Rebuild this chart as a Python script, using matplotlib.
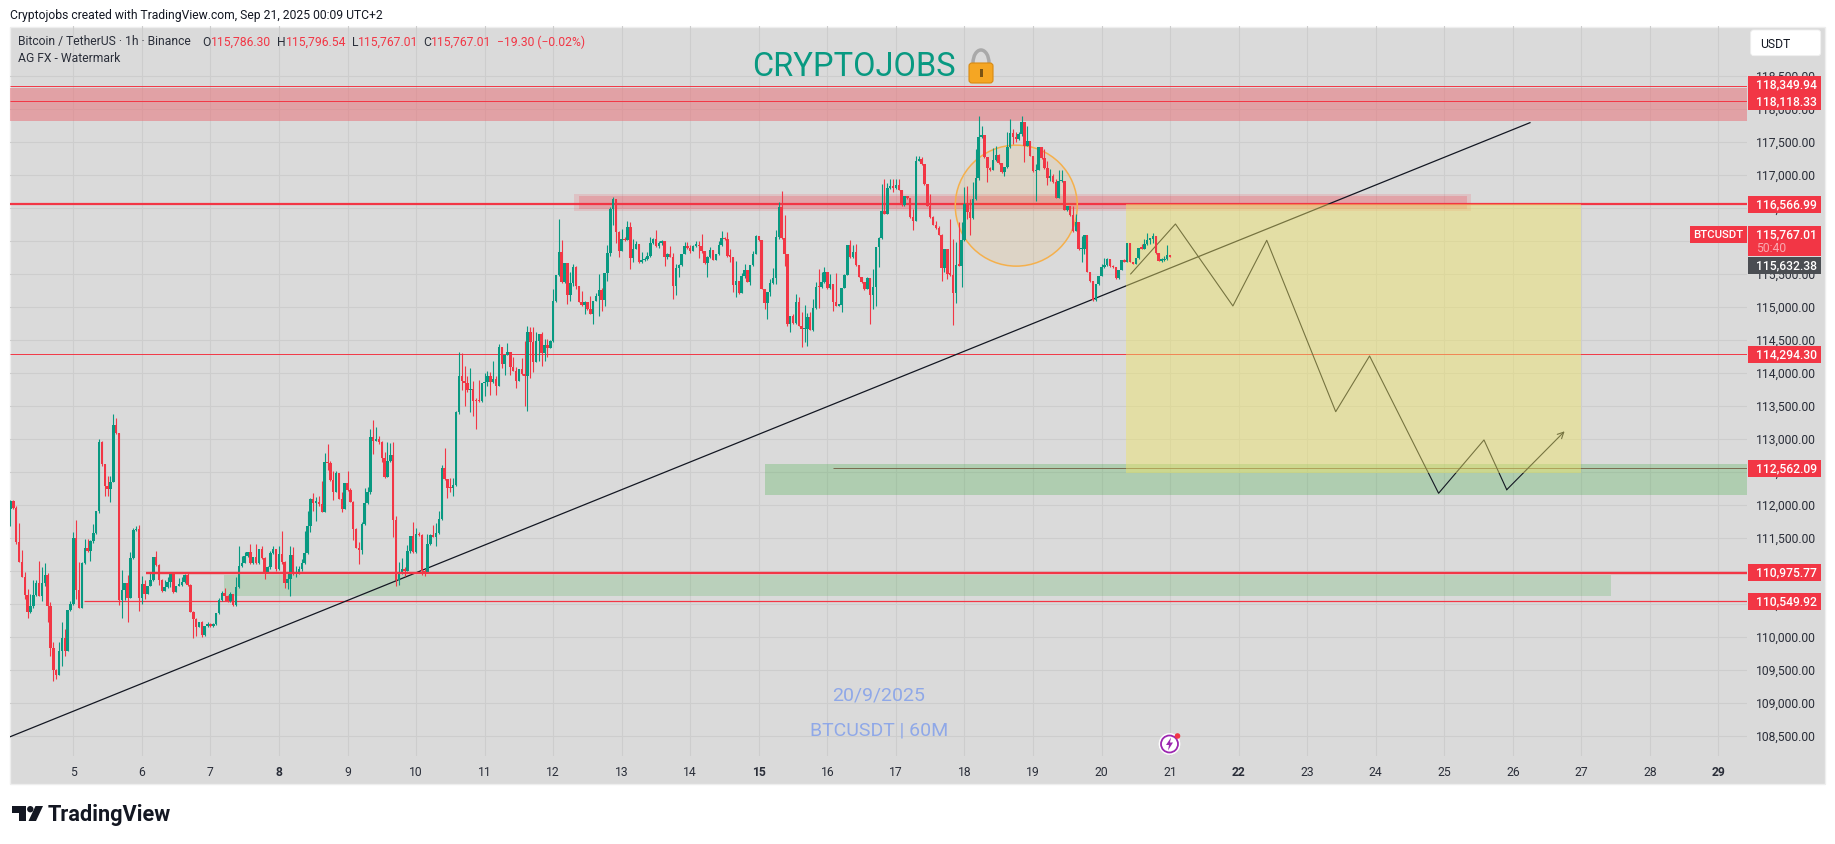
import matplotlib
matplotlib.use("Agg")
import matplotlib.pyplot as plt
from matplotlib.patches import Rectangle, Ellipse, FancyBboxPatch, Polygon, Circle, Arc
from matplotlib.transforms import ScaledTranslation

plt.rcParams['font.family'] = ['Roboto', 'DejaVu Sans']

# hourly candles, first one is Sep 4 01:00
first_open = 111700
closes = [
    111944,112070,111954,111439,111146,110919,110646,110379,110469,110641,
    110823,110631,110823,110944,110469,109843,109510,109434,109793,109990,
    109793,110414,110505,111505,110717,110449,111126,111353,111313,111459,
    111575,111914,112959,112621,112298,112247,112348,113217,113095,110570,
    110717,110823,110596,111202,111626,111641,110596,110808,110656,110782,
    110863,111217,111096,110868,110707,110762,110833,110964,110687,110782,
    110792,110833,110949,110798,110389,110272,110161,110227,110035,110166,
    110202,110166,110202,110368,110570,110671,110626,110555,110651,110489,
    110757,111075,111131,111237,111288,111126,111222,111126,111338,111202,
    110969,111060,111278,111338,111035,111262,111137,110823,110884,111248,
    110960,110995,111036,111126,111278,111682,112096,112040,112051,112020,
    111904,112651,112641,112389,112207,112490,112101,111950,112338,112227,
    112056,111647,111359,111328,111712,112030,112197,113035,112980,113000,
    112965,112717,112424,112667,112763,111773,110869,110995,111036,111010,
    111303,111535,111288,111566,111546,111005,110985,111409,111556,111525,
    111576,111788,112566,112394,112268,112258,112303,113409,113959,113888,
    113848,113747,113757,113585,113580,113575,113848,113873,113959,113873,
    113914,113813,114398,114146,114277,114328,114090,114040,113888,114065,
    113989,113964,114620,114469,114176,114484,114595,114307,114429,114388,
    114484,115090,115489,115838,115378,115671,115186,115363,115610,115317,
    115080,115035,115085,114974,114903,115100,115166,115257,115115,115519,
    115822,116489,116640,116146,115858,116034,116024,116216,115752,115883,
    115959,115691,115711,115732,115772,115974,116034,115934,115974,116009,
    115757,115807,115767,115327,115590,115641,115807,115934,115893,115858,
    115934,115944,115924,115848,115671,115762,115868,115721,115802,115944,
    116045,116034,115772,115767,115338,115399,115217,115480,115570,115389,
    115641,115808,116075,116015,115278,115065,115227,115368,115439,116065,
    116520,116055,115803,114742,114863,114762,115075,114722,114671,114671,
    114853,114661,114985,115303,115302,115378,115530,115288,115348,115086,
    115025,115030,115298,115495,115949,115762,115838,115641,115464,115379,
    115277,115449,115187,115303,115909,116055,116459,116419,116803,116838,
    116813,116853,116777,116550,116681,116651,116363,116313,117222,117247,
    117171,116868,116540,116363,116247,116197,116101,115596,115884,115505,
    115495,115222,115646,115631,116020,116565,116439,116348,116641,116959,
    117575,117610,117272,117106,117086,117232,117308,117181,117055,117121,
    117424,117636,117575,117550,117631,117802,117449,117515,117298,117060,
    117085,117424,117257,117106,116964,116995,116893,116656,116909,116919,
    116479,116540,116399,116156,116288,115884,115884,116096,115540,115399,
    115111,115353,115479,115606,115641,115732,115621,115606,115439,115571,
    115717,115692,115974,115692,115661,115742,115904,115889,115959,116025,
    116035,116085,115818,115707,115712,115732,115786,115767]
highs = [
    112197,112085,112085,111994,111727,111323,110984,110732,110656,110868,
    110868,111156,111065,111126,110974,110530,109924,109520,109934,110227,
    110126,110414,110555,111601,111777,111136,111136,111490,111490,111474,
    111717,111914,113005,112979,112621,112449,112449,113383,113323,113095,
    111020,110823,110949,111298,111651,111691,111702,110934,110868,110782,
    110984,111217,111313,111106,110883,110873,110909,110984,110954,110782,
    110894,110909,110959,110984,110808,110404,110288,110227,110252,110166,
    110227,110212,110212,110368,110596,110707,110742,110641,110681,110651,
    110909,111389,111237,111288,111298,111414,111222,111414,111338,111389,
    111212,111085,111313,111379,111338,111389,111611,111162,110985,111384,
    111364,111076,111076,111187,111611,111919,112106,112182,112121,112147,
    112374,112793,112929,112677,112525,112525,112490,112197,112338,112520,
    112258,112066,111652,111439,111753,112268,112273,113156,113298,113182,
    113056,112975,112813,112955,112944,112965,111843,111147,111202,111061,
    111399,111535,111753,111652,111591,111566,111030,111566,111566,111702,
    111732,111919,112611,112864,112399,112409,112409,113424,114317,114307,
    114115,113964,114075,113888,113620,113898,113848,114004,114040,114025,
    114186,113964,114444,114398,114277,114459,114328,114242,114090,114065,
    114232,114494,114722,114696,114696,114620,114595,114620,114519,114519,
    114509,115277,115489,116337,116019,115671,115403,115530,115656,115631,
    115327,115252,115100,115075,115166,115100,115216,115509,115287,115519,
    115944,116514,116666,116640,116161,116186,116060,116302,116287,116034,
    116009,115959,115833,115757,115833,116060,116050,116171,116009,116015,
    116009,115830,115933,115817,115656,115650,115807,115994,115984,115944,
    115950,116009,116009,116110,115848,115770,115908,115868,115810,116009,
    116161,116060,116135,115883,115767,115697,115404,115515,115656,115570,
    115641,115848,116096,116075,116015,115278,115227,115429,115591,116176,
    116590,116757,116399,115803,114863,114899,115202,115151,114924,115035,
    114914,114924,115126,115378,115580,115530,115606,115530,115505,115348,
    115520,115050,115298,115505,115949,116020,115949,115959,115641,115464,
    115379,115464,115449,115580,115909,116070,116868,116944,116878,116944,
    116944,116944,116944,116777,116690,116690,116651,116490,117287,117287,
    117272,117171,116868,116717,116388,116313,116237,116111,115884,115884,
    116338,116035,115985,116288,116288,116818,116843,116641,116893,117398,
    117893,117752,117610,117272,117120,117409,117449,117320,117181,117121,
    117651,117853,117702,117651,117660,117893,117802,117752,117515,117298,
    117171,117424,117424,117398,117222,117095,117020,116944,117085,117085,
    116919,116540,116540,116540,116414,116288,116085,116096,116096,115540,
    115399,115353,115479,115656,115742,115742,115732,115640,115606,115571,
    115717,115732,115974,115974,115692,115752,115904,115959,116035,116126,
    116055,116126,116085,115818,115740,115780,115944,115797]
lows = [
    111631,111691,111944,111414,111136,110909,110580,110293,110368,110444,
    110631,110631,110555,110782,110227,109722,109343,109369,109434,109570,
    109722,109793,110404,110495,110580,110449,110449,111111,111288,111161,
    111424,111565,111883,112600,112146,112136,112055,112348,113080,110495,
    110293,110570,110227,110596,111187,111616,110394,110505,110580,110656,
    110772,110853,111085,110792,110692,110702,110752,110757,110677,110682,
    110772,110772,110823,110782,110378,109995,110025,110151,110010,110025,
    110151,110151,110161,110187,110353,110555,110555,110530,110530,110479,
    110479,110747,111060,111121,111222,111111,111111,111111,111111,111187,
    110883,110969,111035,111260,111010,111025,111112,110743,110733,110631,
    110945,110919,110960,111010,111112,111263,111601,111919,111768,111990,
    111894,111894,112540,112374,112086,112197,112096,111904,111945,112217,
    112045,111480,111349,111111,111263,111702,112020,112172,112778,112980,
    112929,112651,112414,112424,112651,111525,110783,110798,110960,110934,
    111000,111280,111280,111280,111530,110945,110934,110985,111399,111515,
    111389,111570,111780,112380,112116,112197,112147,112288,113383,113747,
    113510,113712,113419,113358,113156,113560,113560,113661,113802,113671,
    113860,113671,113813,114080,113974,114270,113974,114030,113782,113880,
    113975,113510,113434,113924,114015,114170,114191,114115,114191,114252,
    114380,114469,115075,115469,115370,115368,115050,115095,115327,115277,
    115075,115025,114898,114964,114895,114747,115090,114873,114949,115024,
    115403,115782,116247,115969,115757,115850,116010,116024,115580,115681,
    115880,115671,115671,115700,115720,115760,115959,115910,115895,115950,
    115620,115730,115757,115125,115186,115454,115620,115800,115880,115830,
    115850,115920,115747,115830,115660,115459,115750,115710,115710,115790,
    115930,116020,115760,115680,115227,115151,115200,115210,115450,115380,
    115338,115630,115800,116005,115270,114975,114823,115170,115350,115360,
    116040,116040,115631,114722,114631,114750,114750,114710,114394,114469,
    114419,114650,114640,114980,114985,115290,115370,115280,115270,114949,
    115015,115015,114934,115290,115490,115750,115750,115630,115455,115370,
    115265,115270,114747,114974,115025,115606,116040,116410,116410,116790,
    116740,116790,116770,116540,116540,116640,116350,116176,116303,117210,
    117160,116860,116530,116350,116240,116190,116090,115404,115530,115429,
    115480,114737,115065,115620,115303,116010,116340,116101,116340,116630,
    116930,117570,117260,116904,117070,117080,117220,117170,117040,116984,
    117110,117420,117470,117500,117540,117600,117197,117440,117290,117050,
    116616,117075,117250,117100,116853,116920,116880,116650,116650,116900,
    116470,116460,116390,116140,116150,115870,115681,115808,115530,115390,
    115100,115100,115340,115470,115595,115620,115610,115590,115430,115430,
    115560,115680,115690,115680,115650,115650,115735,115880,115880,115950,
    115960,115970,115810,115695,115680,115700,115720,115767]

price_ticks = list(range(108500, 119000, 500))
day_ticks = list(range(5, 30))

# drawings, x is day of September
trend_days = [4.069, 26.25]
trend_prices = [108489, 117797]
zigzag_days = [20.425, 21.078, 21.916, 22.41, 23.416, 23.91, 24.917, 25.579, 25.911, 26.755]
zigzag_prices = [115505, 116262, 115020, 116015, 113418, 114262, 112182, 112990, 112236, 113121]

W, H = 1835, 845
GREEN = '#089981'
RED = '#f23645'
GREY = '#dadada'
X0, X1 = 4.069, 29.416

fig = plt.figure(figsize=(W / 100, H / 100), dpi=100, facecolor='white')
fig.add_artist(Rectangle((9.5 / W, 1 - 785 / H), 1815.5 / W, 757.5 / H, transform=fig.transFigure,
                         facecolor=GREY, edgecolor='#eeeeee', linewidth=1, zorder=-1))

ax = fig.add_axes([9.5 / W, 1 - 757 / H, (1747 - 9.5) / W, (757 - 27) / H])
ax.set_facecolor('none')
ax.set_xlim(X0, X1)
ax.set_ylim(108201, 119262)
for s in ax.spines.values():
    s.set_visible(False)
ax.yaxis.tick_right()
ax.set_yticks(price_ticks)
ax.set_yticklabels([f'{p:,.2f}' for p in price_ticks])
ax.set_xticks(day_ticks)
ax.set_xticklabels([str(d) for d in day_ticks])
ax.tick_params(axis='y', length=0, pad=6.5, labelsize=8.7, labelcolor='#2a2e39')
ax.tick_params(axis='x', length=0, pad=6.5, labelsize=8.7, labelcolor='#2a2e39')
for lab in ax.get_xticklabels():
    if lab.get_text() in ('8', '15', '22', '29'):
        lab.set_fontweight('bold')
# price labels sit a little above their grid line
lift = ScaledTranslation(0, 0.02, fig.dpi_scale_trans)
for lab in ax.get_yticklabels():
    lab.set_transform(lab.get_transform() + lift)
ax.grid(True, color='#cdcdcd', linewidth=0.8, zorder=0)
ax.set_axisbelow(True)

# zones
ax.add_patch(Rectangle((X0, 117827), X1 - X0, 500, facecolor='#e8737a', alpha=0.55, linewidth=0, zorder=2))
ax.add_patch(Rectangle((12.31, 116464), 13.08, 253, facecolor=RED, alpha=0.14, linewidth=0, zorder=2))
ax.add_patch(Rectangle((12.38, 116489), 12.95, 202, facecolor=RED, alpha=0.22, linewidth=0, zorder=2))
ax.add_patch(Rectangle((15.09, 112160), 14.33, 466, facecolor='#4caf50', alpha=0.30, linewidth=0, zorder=2))
ax.add_patch(Rectangle((7.2, 110630), 20.23, 318, facecolor='#4caf50', alpha=0.22, linewidth=0, zorder=2))

# horizontal levels
ax.hlines([118349.94, 118118.33, 114294.30], X0, X1, color=RED, linewidth=0.7, zorder=3)
ax.hlines(116566.99, X0, X1, color=RED, linewidth=1.6, zorder=3)
ax.hlines(110549.92, 5.16, X1, color=RED, linewidth=0.9, zorder=3)
ax.hlines(112562.09, 16.08, X1, color='#7a6a50', linewidth=0.7, zorder=3)

# trend line and projected path, both sit under the yellow box
ax.plot(trend_days, trend_prices, color='#131722', linewidth=0.9, zorder=3)
ax.annotate('', xy=(zigzag_days[-1], zigzag_prices[-1]), xytext=(zigzag_days[-2], zigzag_prices[-2]),
            arrowprops=dict(arrowstyle='->', color='#131722', lw=0.8, mutation_scale=11,
                            shrinkA=0, shrinkB=0), zorder=3)
ax.plot(zigzag_days[:-1], zigzag_prices[:-1], color='#131722', linewidth=0.8, zorder=3)

ax.add_patch(Rectangle((20.36, 112490), 6.64, 4080, facecolor='#f0e566', alpha=0.45, linewidth=0, zorder=4))
ax.add_patch(Ellipse((18.756, 116540), 1.78, 1833, facecolor='#ff9800', alpha=0.09, linewidth=0, zorder=4))
ax.add_patch(Ellipse((18.756, 116540), 1.78, 1833, facecolor='none', edgecolor='#f5b04c', linewidth=1.1, zorder=4))

# candles
opens = [first_open] + closes[:-1]
days = [4 + (i + 1) / 24 for i in range(len(closes))]
colors = [GREEN if c >= o else RED for o, c in zip(opens, closes)]
wick_lo = [min(l, o, c) for l, o, c in zip(lows, opens, closes)]
wick_hi = [max(h, o, c) for h, o, c in zip(highs, opens, closes)]
ax.vlines(days, wick_lo, wick_hi, colors=colors, linewidth=0.8, zorder=5)
bottoms = [min(o, c) for o, c in zip(opens, closes)]
heights = [max(abs(c - o), 18) for o, c in zip(opens, closes)]
ax.bar(days, heights, width=0.036, bottom=bottoms, color=colors, linewidth=0, zorder=5)

ax.hlines(110975.77, 6.06, X1, color=RED, linewidth=1.7, zorder=6)

# everything around the chart, in pixels
ui = fig.add_axes([0, 0, 1, 1], facecolor='none')
ui.set_xlim(0, W)
ui.set_ylim(H, 0)
ui.axis('off')

ui.text(10, 15, 'Cryptojobs created with TradingView.com, Sep 21, 2025 00:09 UTC+2', fontsize=8.7,
        color='#131722', va='center')
ui.text(18, 42, 'Bitcoin / TetherUS · 1h · Binance', fontsize=8.7, color='#2a2e39', va='center')
ui.text(18, 59, 'AG FX - Watermark', fontsize=8.7, color='#2a2e39', va='center')
for x, t in [(202.5, 'O'), (277, 'H'), (351.5, 'L'), (423.5, 'C')]:
    ui.text(x, 42, t, fontsize=8.7, color='#2a2e39', va='center')
for x, t in [(211, '115,786.30'), (285.5, '115,796.54'), (358, '115,767.01'), (431.4, '115,767.01'),
             (497.4, '−19.30 (−0.02%)')]:
    ui.text(x, 42, t, fontsize=8.7, color=RED, va='center')

ui.text(752, 67, 'CRYPTOJOBS', fontsize=23.5, color=GREEN, va='center', ha='left')
ui.add_patch(Arc((981, 64), 16, 26, theta1=180, theta2=360, edgecolor='#a9a9a9', linewidth=2.5))
ui.add_patch(FancyBboxPatch((969, 64), 24, 20, boxstyle='round,pad=0,rounding_size=3',
                            facecolor='#f5a623', edgecolor='#d98a12', linewidth=0.8))
ui.add_patch(Rectangle((979.5, 70), 3, 8, facecolor='#7a5312', linewidth=0))

ui.text(879, 696, '20/9/2025', fontsize=14, color='#8fa8e8', ha='center', va='center')
ui.text(879, 730.5, 'BTCUSDT | 60M', fontsize=14, color='#8fa8e8', ha='center', va='center')

# price scale labels
ui.add_patch(FancyBboxPatch((1750.7, 31), 70, 25.7, boxstyle='round,pad=0,rounding_size=3',
                            facecolor='white', edgecolor='#f0f0f0', linewidth=0.6))
ui.text(1760, 44.5, 'USDT', fontsize=8.7, color='#131722', va='center')

boxes = [(77, 94, RED), (94, 111, RED), (197, 213.7, RED), (227, 257.3, RED), (258.3, 274.7, '#4a4d52'),
         (347, 363.7, RED), (461, 477.7, RED), (565, 582, RED), (594, 611, RED)]
for top, bottom, col in boxes:
    ui.add_patch(Rectangle((1748, top), 72.7, bottom - top, facecolor=col, linewidth=0))
labels = [(85, '118,349.94'), (101.7, '118,118.33'), (205, '116,566.99'), (234.7, '115,767.01'),
          (265.7, '115,632.38'), (355, '114,294.30'), (469, '112,562.09'), (573, '110,975.77'), (602, '110,549.92')]
for y, t in labels:
    ui.text(1756, y, t, fontsize=8.7, color='white', fontweight='medium', va='center')
ui.text(1756, 248.7, '50:40', fontsize=8.7, color='#f9a9b0', va='center')
ui.add_patch(Rectangle((1690, 227), 57, 16.7, facecolor=RED, linewidth=0))
ui.text(1718.5, 235.3, 'BTCUSDT', fontsize=8.2, color='white', fontweight='medium', ha='center', va='center')

# flash marker
ui.add_patch(Circle((1169.5, 745), 10.5, facecolor='white', edgecolor='white', linewidth=0.5))
ui.add_patch(Circle((1169.5, 745), 8.5, facecolor='white', edgecolor='#9c27b0', linewidth=1.3))
ui.add_patch(Polygon([(1171, 738.5), (1166, 746), (1169, 746), (1168, 751.5), (1173, 743.5), (1170, 743.5)],
                     facecolor='#9c27b0', linewidth=0))
ui.add_patch(Circle((1177.5, 737), 2.8, facecolor=RED, linewidth=0))

# TradingView mark
ui.add_patch(Polygon([(12, 807), (25.5, 807), (25.5, 822), (18.5, 822), (18.5, 813.5), (12, 813.5)],
                     facecolor='#131722', linewidth=0))
ui.add_patch(Circle((30.3, 810.2), 3.2, facecolor='#131722', linewidth=0))
ui.add_patch(Polygon([(35.5, 807), (43, 807), (36, 822), (28.5, 822)], facecolor='#131722', linewidth=0))
ui.text(48, 815.5, 'TradingView', fontsize=15.7, fontweight='bold', color='#131722', va='center')

fig.savefig('out.png', dpi=100)
